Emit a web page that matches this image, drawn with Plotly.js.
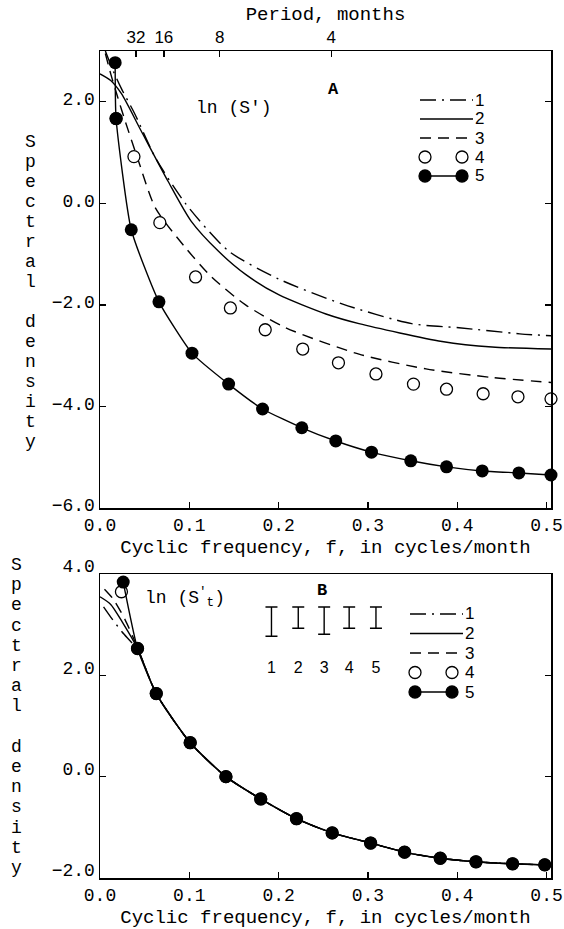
<!DOCTYPE html>
<html><head><meta charset="utf-8">
<script src="https://cdn.plot.ly/plotly-3.0.1.min.js"></script>
<style>html,body{margin:0;padding:0;background:#fff}#chart{width:564px;height:929px}</style>
</head><body><div id="chart"></div>
<script>
// ---------- Panel A : ln(S') ----------
const fA1 = [0.006, 0.015, 0.024, 0.039, 0.062, 0.096, 0.144, 0.200, 0.271, 0.349, 0.402, 0.470, 0.507];
const vA1 = [3.00, 2.60, 2.26, 1.76, 0.90, -0.01, -0.94, -1.49, -1.98, -2.37, -2.45, -2.57, -2.61];
const fA2 = [0.000, 0.012, 0.024, 0.046, 0.076, 0.102, 0.133, 0.163, 0.200, 0.253, 0.290, 0.383, 0.439, 0.507];
const vA2 = [2.55, 2.42, 2.16, 1.43, 0.44, -0.35, -0.95, -1.40, -1.80, -2.18, -2.37, -2.72, -2.83, -2.87];
const fA3 = [0.006, 0.012, 0.020, 0.028, 0.043, 0.062, 0.096, 0.125, 0.163, 0.208, 0.290, 0.365, 0.439, 0.507];
const vA3 = [2.95, 2.55, 2.08, 1.63, 0.84, -0.09, -0.88, -1.45, -2.00, -2.45, -2.97, -3.26, -3.43, -3.53];
const fA4 = [0.018, 0.038, 0.067, 0.107, 0.146, 0.185, 0.227, 0.267, 0.309, 0.351, 0.388, 0.429, 0.468, 0.505];
const vA4 = [1.67, 0.92, -0.38, -1.45, -2.06, -2.49, -2.87, -3.14, -3.36, -3.56, -3.66, -3.75, -3.81, -3.85];
const fA5 = [0.017, 0.018, 0.035, 0.066, 0.103, 0.144, 0.182, 0.226, 0.264, 0.304, 0.348, 0.388, 0.428, 0.469, 0.505];
const vA5 = [2.77, 1.67, -0.52, -1.94, -2.95, -3.56, -4.05, -4.42, -4.68, -4.90, -5.07, -5.19, -5.27, -5.31, -5.35];

// ---------- Panel B : ln(S't) ----------
const fB1 = [0.004, 0.012, 0.025, 0.042, 0.063, 0.101, 0.141, 0.180, 0.220, 0.260, 0.303, 0.341, 0.381, 0.421, 0.462, 0.498];
const vB1 = [3.35, 3.15, 2.85, 2.50, 1.64, 0.67, 0.00, -0.44, -0.83, -1.11, -1.31, -1.49, -1.61, -1.68, -1.72, -1.74];
const fB2 = [0.000, 0.012, 0.025, 0.042, 0.063, 0.101, 0.141, 0.180, 0.220, 0.260, 0.303, 0.341, 0.381, 0.421, 0.462, 0.498];
const vB2 = [3.55, 3.40, 3.05, 2.53, 1.64, 0.67, 0.00, -0.44, -0.83, -1.11, -1.31, -1.49, -1.61, -1.68, -1.72, -1.74];
const fB3 = [0.005, 0.015, 0.028, 0.042, 0.063, 0.101, 0.141, 0.180, 0.220, 0.260, 0.303, 0.341, 0.381, 0.421, 0.462, 0.498];
const vB3 = [3.70, 3.50, 3.10, 2.55, 1.64, 0.67, 0.00, -0.44, -0.83, -1.11, -1.31, -1.49, -1.61, -1.68, -1.72, -1.74];
const fB4 = [0.024, 0.042, 0.063, 0.101, 0.141, 0.180, 0.220, 0.260, 0.303, 0.341, 0.381, 0.421, 0.462, 0.498];
const vB4 = [3.65, 2.53, 1.64, 0.67, 0.00, -0.44, -0.83, -1.11, -1.31, -1.49, -1.61, -1.68, -1.72, -1.74];
const fB5 = [0.026, 0.042, 0.063, 0.101, 0.141, 0.180, 0.220, 0.260, 0.303, 0.341, 0.381, 0.421, 0.462, 0.498];
const vB5 = [3.84, 2.53, 1.64, 0.67, 0.00, -0.44, -0.83, -1.11, -1.31, -1.49, -1.61, -1.68, -1.72, -1.74];

// confidence-interval bars in panel B
const ciF = [0.192, 0.222, 0.251, 0.279, 0.309];
const ciTop = [3.35, 3.35, 3.35, 3.35, 3.35];
const ciBottom = [2.77, 2.93, 2.81, 2.93, 2.93];
const ciLabels = ['1', '2', '3', '4', '5'];
const ciLabelY = [2.12, 2.12, 2.12, 2.12, 2.12];

// tick labels
const freqTicks = [0.0, 0.1, 0.2, 0.3, 0.4, 0.5];
const periodTicks = [32, 16, 8, 4];
const yTicksA = [2, 0, -2, -4, -6];
const yTicksB = [4, 2, 0, -2];
const seriesNames = ['1', '2', '3', '4', '5'];

// ---------- layout geometry ----------
const L = 100, R = 13, T = 51, Bm = 51, WID = 564, HEI = 929;
const PW = WID - L - R, PH = HEI - T - Bm;
const px = x => (x - L) / PW;
const py = y => (HEI - Bm - y) / PH;

const MONO = 'Liberation Mono, Courier New, monospace';
const SANS = 'Liberation Sans, Arial, sans-serif';
const BLK = '#000';
const DASHDOT = '16px,6px,2px,6px';
const DASH = '11px,7px';
const lineDash = [DASHDOT, 'solid', DASH];

function lineTrace(x, y, xa, ya, dash) {
  return {x, y, xaxis: xa, yaxis: ya, mode: 'lines', showlegend: false, hoverinfo: 'skip',
    line: {color: BLK, width: 1.4, dash, shape: 'spline', smoothing: 0.7}};
}
function openTrace(x, y, xa, ya) {
  return {x, y, xaxis: xa, yaxis: ya, mode: 'markers', showlegend: false, cliponaxis: false,
    marker: {symbol: 'circle', size: 12, color: '#fff', line: {color: BLK, width: 1.3}}};
}
function filledTrace(x, y, xa, ya) {
  return {x, y, xaxis: xa, yaxis: ya, mode: 'lines+markers', showlegend: false, cliponaxis: false,
    line: {color: BLK, width: 1.4, shape: 'spline', smoothing: 0.5},
    marker: {symbol: 'circle', size: 13, color: BLK}};
}

const data = [
  lineTrace(fA1, vA1, 'x', 'y', DASHDOT),
  lineTrace(fA2, vA2, 'x', 'y', 'solid'),
  lineTrace(fA3, vA3, 'x', 'y', DASH),
  openTrace(fA4, vA4, 'x', 'y'),
  filledTrace(fA5, vA5, 'x', 'y'),
  // carries the top "Period" axis (no visible marks)
  {x: periodTicks.map(p => 1 / p), y: periodTicks.map(() => -100), xaxis: 'x2', yaxis: 'y',
   mode: 'lines', line: {width: 0, color: 'rgba(0,0,0,0)'}, showlegend: false, hoverinfo: 'skip'},
  lineTrace(fB1, vB1, 'x3', 'y2', DASHDOT),
  lineTrace(fB2, vB2, 'x3', 'y2', 'solid'),
  lineTrace(fB3, vB3, 'x3', 'y2', DASH),
  openTrace(fB4, vB4, 'x3', 'y2'),
  filledTrace(fB5, vB5, 'x3', 'y2'),
  {x: ciF, y: ciTop, xaxis: 'x3', yaxis: 'y2', mode: 'markers', showlegend: false, hoverinfo: 'skip',
   marker: {size: 1, color: 'rgba(0,0,0,0)'},
   error_y: {type: 'data', symmetric: false, array: ciTop.map(() => 0),
             arrayminus: ciTop.map((t, i) => t - ciBottom[i]), width: 6, thickness: 1.4, color: BLK}},
  {x: ciF, y: ciLabelY, xaxis: 'x3', yaxis: 'y2', mode: 'text', text: ciLabels, showlegend: false,
   hoverinfo: 'skip', textfont: {family: SANS, size: 16, color: BLK}}
];

const axBase = {
  showgrid: false, zeroline: false, showline: true, linecolor: BLK, linewidth: 1.5,
  ticks: 'inside', ticklen: 6, tickwidth: 1.3, tickcolor: BLK,
  tickfont: {family: MONO, size: 18, color: BLK}
};

// ---------- custom legends ----------
const shapes = [], annotations = [];
function addLegend(x0, x1, yTop, step, cx1, cx2, labX) {
  seriesNames.forEach((nm, i) => {
    const yy = py(yTop + i * step);
    if (i < 3) {
      shapes.push({type: 'line', xref: 'paper', yref: 'paper', x0: px(x0), x1: px(x1), y0: yy, y1: yy,
        line: {color: BLK, width: 1.4, dash: lineDash[i]}});
    } else {
      if (i === 4) shapes.push({type: 'line', xref: 'paper', yref: 'paper', x0: px(cx1), x1: px(cx2), y0: yy, y1: yy,
        line: {color: BLK, width: 1.4}});
      [cx1, cx2].forEach(cx => shapes.push({type: 'circle', xref: 'paper', yref: 'paper',
        xsizemode: 'pixel', ysizemode: 'pixel', xanchor: px(cx), yanchor: yy,
        x0: -6, x1: 6, y0: -6, y1: 6,
        fillcolor: i === 4 ? BLK : '#fff', line: {color: BLK, width: 1.3}}));
    }
    annotations.push({xref: 'paper', yref: 'paper', x: px(labX), y: yy, xanchor: 'left', yanchor: 'middle',
      text: nm, showarrow: false, font: {family: SANS, size: 17, color: BLK}});
  });
}
addLegend(420, 473, 100, 19, 425, 462, 473);
addLegend(410, 463, 614, 19.5, 415, 452, 463);

// panel text
annotations.push(
  {xref: 'paper', yref: 'paper', x: px(333), y: py(78), text: '<b>A</b>', showarrow: false,
   font: {family: MONO, size: 17, color: BLK}},
  {xref: 'paper', yref: 'paper', x: px(194), y: py(96), text: "ln (S')", showarrow: false,
   font: {family: MONO, size: 18, color: BLK}},
  {xref: 'paper', yref: 'paper', x: px(322), y: py(590), text: '<b>B</b>', showarrow: false,
   font: {family: MONO, size: 17, color: BLK}},
  {xref: 'paper', yref: 'paper', x: px(143), y: py(612), xanchor: 'left', text: "ln (S<sup>'</sup><sub>t</sub>)",
   showarrow: false, font: {family: MONO, size: 18, color: BLK}}
);
// vertical stacked y-axis titles
const yTitle = 'Spectral density';
function addYTitle(xc, yStart, step) {
  [...yTitle].forEach((ch, i) => {
    if (ch === ' ') return;
    annotations.push({xref: 'paper', yref: 'paper', x: px(xc), y: py(yStart + i * step), text: ch,
      showarrow: false, xanchor: 'center', yanchor: 'middle', font: {family: MONO, size: 18, color: BLK}});
  });
}
addYTitle(30, 142, 20);
addYTitle(16, 565, 20.2);

const layout = {
  width: WID, height: HEI, paper_bgcolor: '#fff', plot_bgcolor: '#fff',
  margin: {l: L, r: R, t: T, b: Bm}, showlegend: false,
  font: {family: MONO, color: BLK},
  xaxis: Object.assign({}, axBase, {domain: [0, 1], anchor: 'y', range: [0, 0.505],
    tickvals: freqTicks, tickformat: '.1f',
    title: {text: 'Cyclic frequency, f, in cycles/month', font: {family: MONO, size: 19, color: BLK}, standoff: 4}}),
  xaxis2: Object.assign({}, axBase, {overlaying: 'x', side: 'top', anchor: 'y', range: [-0.009, 0.496],
    tickvals: periodTicks.map(p => 1 / p), ticktext: periodTicks.map(String),
    tickfont: {family: SANS, size: 17, color: BLK},
    title: {text: 'Period, months', font: {family: MONO, size: 19, color: BLK}, standoff: 2}}),
  yaxis: Object.assign({}, axBase, {domain: [py(508), 1], anchor: 'x', range: [-6, 3],
    tickvals: yTicksA, tickformat: '.1f', mirror: 'ticks', ticklabelshift: -3}),
  xaxis3: Object.assign({}, axBase, {domain: [0, 1], anchor: 'y2', range: [0, 0.505], mirror: true,
    tickvals: freqTicks, tickformat: '.1f',
    title: {text: 'Cyclic frequency, f, in cycles/month', font: {family: MONO, size: 19, color: BLK}, standoff: 4}}),
  yaxis2: Object.assign({}, axBase, {domain: [0, py(574)], anchor: 'x3', range: [-2, 4],
    tickvals: yTicksB, tickformat: '.1f', mirror: 'ticks', ticklabelshift: -8}),
  shapes, annotations
};

Plotly.newPlot('chart', data, layout, {staticPlot: true, displayModeBar: false});
</script>
</body></html>
